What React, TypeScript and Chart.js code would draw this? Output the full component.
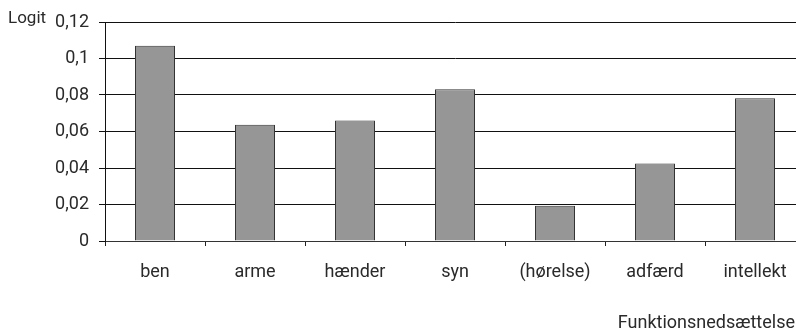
import React, { useEffect, useRef } from "react";
import { Chart, registerables } from "chart.js";

Chart.register(...registerables);

const categories = ["ben", "arme", "hænder", "syn", "(hørelse)", "adfærd", "intellekt"];
const values = [0.107, 0.0637, 0.066, 0.0831, 0.0193, 0.0425, 0.0782];
const yTickLabels = ["0", "0,02", "0,04", "0,06", "0,08", "0,1", "0,12"];
const yAxisTitle = "Logit";
const xAxisTitle = "Funktionsnedsættelse";

const FONT = "Roboto, 'DejaVu Sans', sans-serif";

export default function App() {
  const ref = useRef<HTMLCanvasElement | null>(null);
  useEffect(() => {
    if (!ref.current) return;
    const titles = {
      id: "titles",
      afterDraw(chart: any) {
        const ctx = chart.ctx;
        ctx.save();
        ctx.fillStyle = "#2a2a2a";
        ctx.font = `17px ${FONT}`;
        ctx.textBaseline = "alphabetic";
        ctx.textAlign = "left";
        ctx.fillText(yAxisTitle, 8, 23);
        ctx.font = `18px ${FONT}`;
        ctx.textAlign = "right";
        ctx.fillText(xAxisTitle, 795, 328);
        ctx.restore();
      },
    };
    const chart = new Chart(ref.current, {
      type: "bar",
      data: {
        labels: categories,
        datasets: [
          {
            data: values,
            backgroundColor: "#969696",
            borderColor: "#333333",
            borderWidth: 1,
            barPercentage: 0.8,
            categoryPercentage: 0.5,
          },
        ],
      },
      options: {
        responsive: false,
        animation: false,
        devicePixelRatio: 1,
        layout: { padding: { left: 0, right: 5, top: 22, bottom: 0 } },
        plugins: { legend: { display: false }, tooltip: { enabled: false } },
        scales: {
          x: {
            afterFit(scale: any) {
              scale.height = 90;
            },
            grid: {
              drawOnChartArea: false,
              drawTicks: true,
              tickLength: 5,
              color: "#222",
              offset: true,
            },
            border: { color: "#333", width: 1 },
            ticks: {
              color: "#2a2a2a",
              font: { family: FONT, size: 18 },
              padding: 16,
              maxRotation: 0,
            },
          },
          y: {
            min: 0,
            max: 0.12,
            afterFit(scale: any) {
              scale.width = 105;
            },
            grid: {
              color: "#111",
              lineWidth: 1,
              tickLength: 6,
              drawTicks: true,
            },
            border: { color: "#111", width: 1 },
            ticks: {
              stepSize: 0.02,
              padding: 10,
              color: "#2a2a2a",
              font: { family: FONT, size: 18 },
              callback: (_v: any, i: number) => yTickLabels[i],
            },
          },
        },
      },
      plugins: [titles],
    });
    return () => chart.destroy();
  }, []);
  return (
    <div
      style={{
        position: "fixed",
        left: 0,
        top: 0,
        width: 796,
        height: 331,
        overflow: "hidden",
        background: "#fff",
      }}
    >
      <canvas ref={ref} width={810} height={331} style={{ display: "block" }} />
    </div>
  );
}
